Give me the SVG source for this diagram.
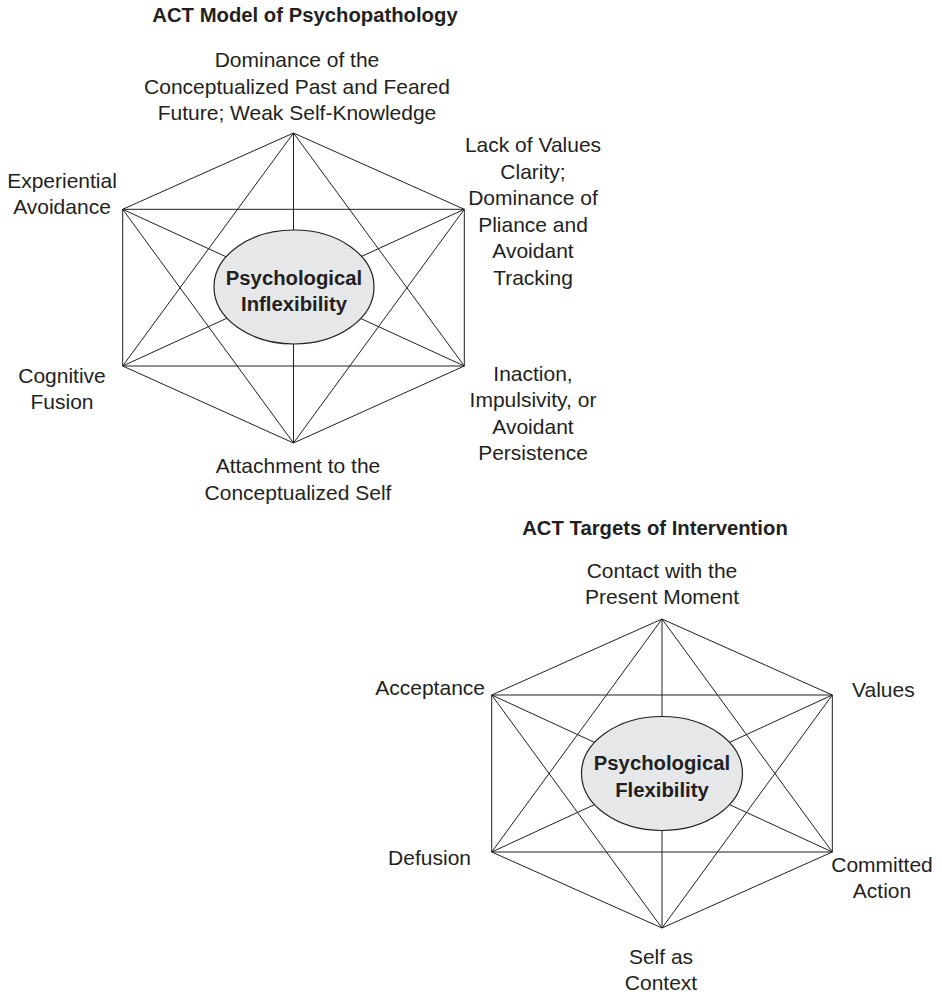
<svg xmlns="http://www.w3.org/2000/svg" width="942" height="995" viewBox="0 0 942 995">
<style>
.bg{fill:#ffffff}
.t{font-family:"Liberation Sans",Arial,sans-serif;font-size:21px;fill:#231f20;text-anchor:middle}
.b{font-family:"Liberation Sans",Arial,sans-serif;font-size:20.3px;font-weight:bold;fill:#231f20;text-anchor:middle}
.e{text-anchor:end}
.s{text-anchor:start}
.ln{stroke:#231f20;stroke-width:1;fill:none}
.el{fill:#e6e7e8;stroke:#231f20;stroke-width:1.2}
</style>
<rect class="bg" x="0" y="0" width="942" height="995"/>

<!-- Top diagram connectors -->
<g id="connectors-top" class="ln">
<polygon points="293.5,133 464.3,209.3 464.3,366 293.5,443 122.7,366 122.7,209.3"/>
<line x1="293.5" y1="133" x2="293.5" y2="443"/>
<line x1="122.7" y1="209.3" x2="464.3" y2="209.3"/>
<line x1="122.7" y1="366" x2="464.3" y2="366"/>
<line x1="293.5" y1="133" x2="122.7" y2="366"/>
<line x1="293.5" y1="133" x2="464.3" y2="366"/>
<line x1="293.5" y1="443" x2="122.7" y2="209.3"/>
<line x1="293.5" y1="443" x2="464.3" y2="209.3"/>
<line x1="122.7" y1="209.3" x2="464.3" y2="366"/>
<line x1="464.3" y1="209.3" x2="122.7" y2="366"/>
</g>

<!-- Bottom diagram connectors -->
<g id="connectors-bottom" class="ln">
<polygon points="662,619 832.3,695 832.3,852 662,928 491.7,852 491.7,695"/>
<line x1="662" y1="619" x2="662" y2="928"/>
<line x1="491.7" y1="695" x2="832.3" y2="695"/>
<line x1="491.7" y1="852" x2="832.3" y2="852"/>
<line x1="662" y1="619" x2="491.7" y2="852"/>
<line x1="662" y1="619" x2="832.3" y2="852"/>
<line x1="662" y1="928" x2="491.7" y2="695"/>
<line x1="662" y1="928" x2="832.3" y2="695"/>
<line x1="491.7" y1="695" x2="832.3" y2="852"/>
<line x1="832.3" y1="695" x2="491.7" y2="852"/>
</g>

<!-- Top diagram nodes -->
<g id="title-top"><text class="b" x="305" y="22">ACT Model of Psychopathology</text></g>
<g id="node-past-future">
<text class="t" x="297" y="67">Dominance of the</text>
<text class="t" x="297" y="93.5">Conceptualized Past and Feared</text>
<text class="t" x="297" y="120">Future; Weak Self-Knowledge</text>
</g>
<g id="node-experiential-avoidance">
<text class="t" x="62" y="188">Experiential</text>
<text class="t" x="62" y="214">Avoidance</text>
</g>
<g id="node-cognitive-fusion">
<text class="t" x="62" y="383">Cognitive</text>
<text class="t" x="62" y="409">Fusion</text>
</g>
<g id="node-values-clarity">
<text class="t" x="533" y="152">Lack of Values</text>
<text class="t" x="533" y="178.5">Clarity;</text>
<text class="t" x="533" y="205">Dominance of</text>
<text class="t" x="533" y="231.5">Pliance and</text>
<text class="t" x="533" y="258">Avoidant</text>
<text class="t" x="533" y="284.5">Tracking</text>
</g>
<g id="node-inaction">
<text class="t" x="533" y="381">Inaction,</text>
<text class="t" x="533" y="407">Impulsivity, or</text>
<text class="t" x="533" y="433.5">Avoidant</text>
<text class="t" x="533" y="460">Persistence</text>
</g>
<g id="node-attachment">
<text class="t" x="298" y="473">Attachment to the</text>
<text class="t" x="298" y="500">Conceptualized Self</text>
</g>
<g id="node-inflexibility">
<ellipse class="el" cx="294" cy="287" rx="80" ry="57"/>
<text class="b" x="294" y="285">Psychological</text>
<text class="b" x="294" y="311">Inflexibility</text>
</g>

<!-- Bottom diagram nodes -->
<g id="title-bottom"><text class="b" x="655" y="535">ACT Targets of Intervention</text></g>
<g id="node-present-moment">
<text class="t" x="662" y="578">Contact with the</text>
<text class="t" x="662" y="604">Present Moment</text>
</g>
<g id="node-acceptance"><text class="t e" x="485" y="695">Acceptance</text></g>
<g id="node-values"><text class="t s" x="852" y="697">Values</text></g>
<g id="node-defusion"><text class="t e" x="471" y="865">Defusion</text></g>
<g id="node-committed-action">
<text class="t" x="882" y="872">Committed</text>
<text class="t" x="882" y="898">Action</text>
</g>
<g id="node-self-as-context">
<text class="t" x="661" y="964">Self as</text>
<text class="t" x="661" y="990">Context</text>
</g>
<g id="node-flexibility">
<ellipse class="el" cx="662" cy="773.5" rx="80.5" ry="57"/>
<text class="b" x="662" y="770">Psychological</text>
<text class="b" x="662" y="797">Flexibility</text>
</g>
</svg>
